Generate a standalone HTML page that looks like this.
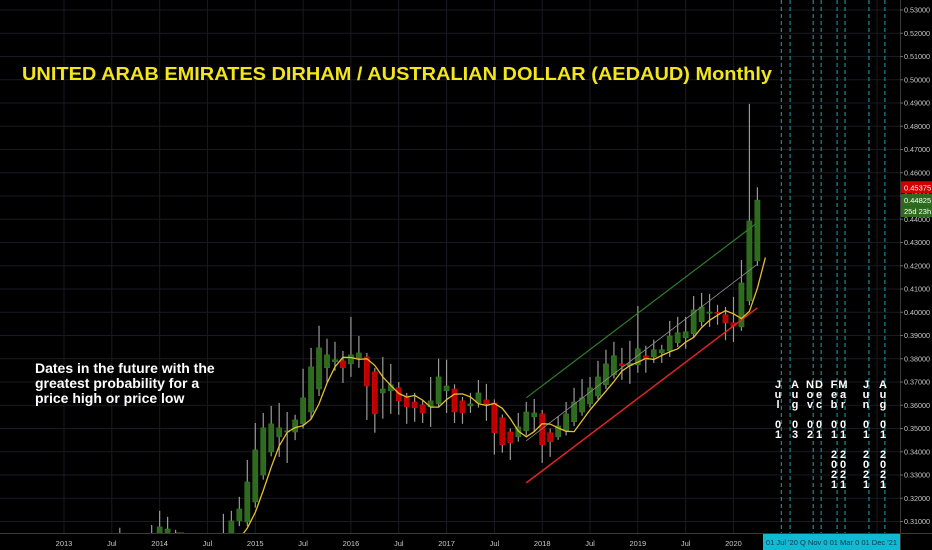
<!DOCTYPE html>
<html><head><meta charset="utf-8"><style>
html,body{margin:0;padding:0;background:#000;}
svg{display:block;font-family:"Liberation Sans",sans-serif;}
.vt{position:absolute;color:#fff;font:bold 11px/10px "Liberation Sans",sans-serif;text-align:center;width:10px;}
</style></head><body>
<div style="position:relative;width:932px;height:550px;overflow:hidden;">
<svg id="c" width="932" height="550"></svg>
<div id="vtext"></div>
</div>
<script>
// ---- data (monthly candles starting Jan 2013) ----
const opens =[.300,.300,.299,.300,.301,.300,.301,.303,.303,.302,.301,.302,.303,.304,.303,.301,.299,.297,.296,.298,.300,.303,.3103,.3098,.3184,.3300,.3399,.3464,.3485,.3485,.3520,.3571,.3670,.3761,.3787,.3791,.3778,.3804,.3808,.3744,.3653,.3662,.3675,.3640,.3614,.3602,.3593,.3606,.3662,.3670,.3619,.3597,.3610,.3623,.3610,.3546,.3485,.3464,.3490,.3550,.3563,.3482,.3464,.3490,.3529,.3571,.3606,.3640,.3688,.3731,.3778,.3770,.3774,.3813,.3808,.3825,.3834,.3869,.3890,.3907,.3959,.3997,.4000,.3989,.3955,.3937,.4049,.4221];
const highs =[.302,.302,.301,.302,.303,.302,.303,.3073,.305,.303,.302,.3085,.3146,.3120,.3064,.302,.300,.298,.298,.300,.3133,.3146,.3206,.3365,.3524,.3567,.3597,.3610,.3571,.3559,.3757,.3847,.3942,.3886,.3873,.3834,.3980,.3898,.3825,.3760,.3808,.3778,.3700,.3653,.3653,.3620,.3722,.3800,.3796,.3690,.3636,.3653,.3709,.3692,.3625,.3560,.3500,.3567,.3614,.3627,.3580,.3500,.3554,.3614,.3675,.3713,.3722,.3791,.3839,.3873,.3847,.3877,.4027,.3856,.3882,.3860,.3963,.3980,.3980,.4070,.4083,.4079,.4032,.4023,.4066,.4225,.4896,.45375];
const lows  =[.297,.297,.296,.297,.298,.297,.298,.300,.300,.299,.298,.300,.300,.300,.300,.297,.295,.294,.294,.296,.298,.301,.308,.308,.316,.328,.338,.3378,.3352,.345,.350,.354,.364,.3700,.3748,.3696,.3722,.3761,.3537,.3482,.3542,.3563,.3559,.3520,.3529,.3524,.3507,.3590,.3567,.3524,.3520,.3567,.3590,.3533,.3388,.3396,.3365,.3443,.3470,.3485,.3352,.3378,.3451,.3470,.3510,.3555,.3590,.3625,.3670,.3715,.3709,.3692,.3740,.3740,.3782,.3782,.3808,.3850,.3843,.3890,.3940,.3937,.3946,.3880,.3872,.3920,.4030,.4200];
const closes=[.300,.299,.300,.301,.300,.301,.302,.304,.3035,.301,.302,.303,.3077,.3068,.302,.299,.297,.296,.297,.300,.303,.3103,.3154,.3270,.3408,.3503,.3520,.3503,.3490,.3537,.3632,.3765,.3847,.3817,.3796,.3761,.3817,.3825,.3683,.3563,.3670,.3688,.3619,.3593,.3589,.3567,.3619,.3722,.3683,.3571,.3567,.3606,.3653,.3606,.3482,.3430,.3438,.3507,.3571,.3567,.3430,.3443,.3511,.3563,.3614,.3632,.3675,.3722,.3778,.3813,.3770,.3780,.3843,.3796,.3839,.3839,.3898,.3912,.3916,.4010,.4023,.4001,.3995,.3954,.3940,.4126,.4393,.44825];
const priceTicks=[.31,.32,.33,.34,.35,.36,.37,.38,.39,.40,.41,.42,.43,.44,.45,.46,.47,.48,.49,.50,.51,.52,.53];
const timeLabels=["2013","Jul","2014","Jul","2015","Jul","2016","Jul","2017","Jul","2018","Jul","2019","Jul","2020"];
const timeLabelMonths=[0,6,12,18,24,30,36,42,48,54,60,66,72,78,84];
// trend lines: [month index, price] pairs
const greenLine=[[58.0,.3632],[86.8,.4380]];
const grayLine=[[58.0,.3447],[86.9,.4204]];
const redLine=[[58.0,.3266],[87.0,.4019]];
// future dates (month index) with vertical labels
const futureMonths=[90.0,91.1,94.0,95.0,97.0,98.0,101.0,103.0];
const futureLabels=[["J","u","l","","0","1"],["A","u","g","","0","3"],["N","o","v","","0","2"],["D","e","c","","0","1"],["F","e","b","","0","1","","2","0","2","1"],["M","a","r","","0","1","","2","0","2","1"],["J","u","n","","0","1","","2","0","2","1"],["A","u","g","","0","1","","2","0","2","1"]];
const maPeriod=4, maShift=1;

// ---- axes ----
const X0=64, MW=7.97, PLOT_R=900, PLOT_B=533;
const xS=i=>X0+i*MW;
const yS=p=>10+(0.53-p)*2325;
const NS="http://www.w3.org/2000/svg";
const svg=document.getElementById('c');
function mk(tag,attrs,parent){const e=document.createElementNS(NS,tag);for(const k in attrs)e.setAttribute(k,attrs[k]);(parent||svg).appendChild(e);return e;}

mk('rect',{x:0,y:0,width:932,height:550,fill:'#000'});
const clip=mk('clipPath',{id:'pc'});mk('rect',{x:0,y:0,width:PLOT_R,height:PLOT_B},clip);
const grid=mk('g',{'clip-path':'url(#pc)'});


priceTicks.forEach(p=>{const l=mk('line',{x1:0,x2:PLOT_R,y1:yS(p),y2:yS(p),stroke:'#1a1a22','stroke-width':1},grid);

});
timeLabelMonths.forEach(m=>{const l=mk('line',{x1:xS(m),x2:xS(m),y1:0,y2:PLOT_B,stroke:'#1a1a22','stroke-width':1},grid);

});
mk('line',{x1:877,x2:877,y1:0,y2:PLOT_B,stroke:'#1a1a22'},grid);

// future dashed lines
const fut=mk('g',{});


futureMonths.forEach(m=>{const l=mk('line',{x1:xS(m),x2:xS(m),y1:0,y2:PLOT_B,stroke:'#1aa6b0','stroke-width':1,'stroke-dasharray':'4,3'},fut);

});

// candles
const cg=mk('g',{'clip-path':'url(#pc)'});


for(let i=0;i<closes.length;i++){
  const x=xS(i),up=closes[i]>=opens[i];
  const w=mk('line',{x1:x,x2:x,y1:yS(highs[i]),y2:yS(lows[i]),stroke:'#9a9a9a','stroke-width':1.2},cg);
  
  
  const top=yS(Math.max(opens[i],closes[i])),bot=yS(Math.min(opens[i],closes[i]));
  const b=mk('rect',{x:x-2.6,y:top,width:5.2,height:Math.max(1.2,bot-top),fill:up?'#2f6b1f':'#c00000',stroke:up?'#3a7d28':'#d01010','stroke-width':0.5},cg);
  
  
}

// trend lines
function tl(arr,color,w,name){const l=mk('line',{x1:xS(arr[0][0]),y1:yS(arr[0][1]),x2:xS(arr[1][0]),y2:yS(arr[1][1]),stroke:color,'stroke-width':w});

}
tl(greenLine,'#2f7d2a',1.2,'upper-channel-line');
tl(grayLine,'#8a8a8a',0.9,'mid-channel-line');
tl(redLine,'#e02424',1.5,'lower-trend-line');

// moving average
let pts=[];
for(let i=maPeriod-1;i<closes.length;i++){let s=0;for(let k=0;k<maPeriod;k++)s+=closes[i-k];pts.push(xS(i+maShift).toFixed(1)+','+yS(s/maPeriod).toFixed(1));}
const ma=mk('polyline',{points:pts.join(' '),fill:'none',stroke:'#e6c02e','stroke-width':1.3,'clip-path':'url(#pc)'});



// axes
mk('line',{x1:PLOT_R+0.5,x2:PLOT_R+0.5,y1:0,y2:550,stroke:'#3a3a3a'});
mk('line',{x1:0,x2:932,y1:PLOT_B+0.5,y2:PLOT_B+0.5,stroke:'#3a3a3a'});
priceTicks.forEach(p=>{
  mk('line',{x1:PLOT_R,x2:PLOT_R+3,y1:yS(p),y2:yS(p),stroke:'#666'});
  const t=mk('text',{x:904,y:yS(p)+2.5,fill:'#c8c8c8','font-size':7.2});t.textContent=p.toFixed(5);
  
  
});
timeLabels.forEach((s,k)=>{const t=mk('text',{x:xS(timeLabelMonths[k]),y:546,fill:'#c8c8c8','font-size':7.5,'text-anchor':'middle'});t.textContent=s;

});

// last price labels
function plabel(y,h,fill,txt,name){const g=mk('g',{});


mk('rect',{x:901,y:y,width:31,height:h,fill:fill},g);const t=mk('text',{x:904,y:y+h-3,fill:'#fff','font-size':7.5},g);t.textContent=txt;}
plabel(yS(highs[87])-6,12,'#d00000',highs[87].toFixed(5),'high-price-label');
plabel(yS(closes[87])-6,12,'#2e6b1e',closes[87].toFixed(5),'last-price-label');
plabel(yS(closes[87])+6,11,'#2e6b1e','25d 23h','bar-countdown-label');

// cyan date range box
const bx=mk('g',{});


mk('rect',{x:763,y:534,width:137,height:16,fill:'#12b9d3'},bx);
const bt=mk('text',{x:766,y:545,fill:'#0b3a4a','font-size':7.5,textLength:131,lengthAdjust:'spacingAndGlyphs'},bx);bt.textContent="01 Jul '20  Q Nov  0  01 Mar  0  01 Dec '21";

// title & note
const ti=mk('text',{x:22,y:80,fill:'#f3e51b','font-size':18,'font-weight':'bold',textLength:750,lengthAdjust:'spacingAndGlyphs'});
ti.textContent="UNITED ARAB EMIRATES DIRHAM / AUSTRALIAN DOLLAR (AEDAUD) Monthly";


const note=["Dates in the future with the","greatest probability for a","price high or price low"];
note.forEach((s,k)=>{const t=mk('text',{x:35,y:373+k*15,fill:'#fff','font-size':14,'font-weight':'bold'});t.textContent=s;

});

// vertical date labels
const vt=document.getElementById('vtext');
const vx=[778,795,810,819,834,843,866,883];
futureLabels.forEach((chars,k)=>{const d=document.createElement('div');d.className='vt';d.style.left=(vx[k]-5)+'px';d.style.top='380px';


d.innerHTML=chars.map(c=>c||'&nbsp;').join('<br>');vt.appendChild(d);});
</script>
</body></html>
